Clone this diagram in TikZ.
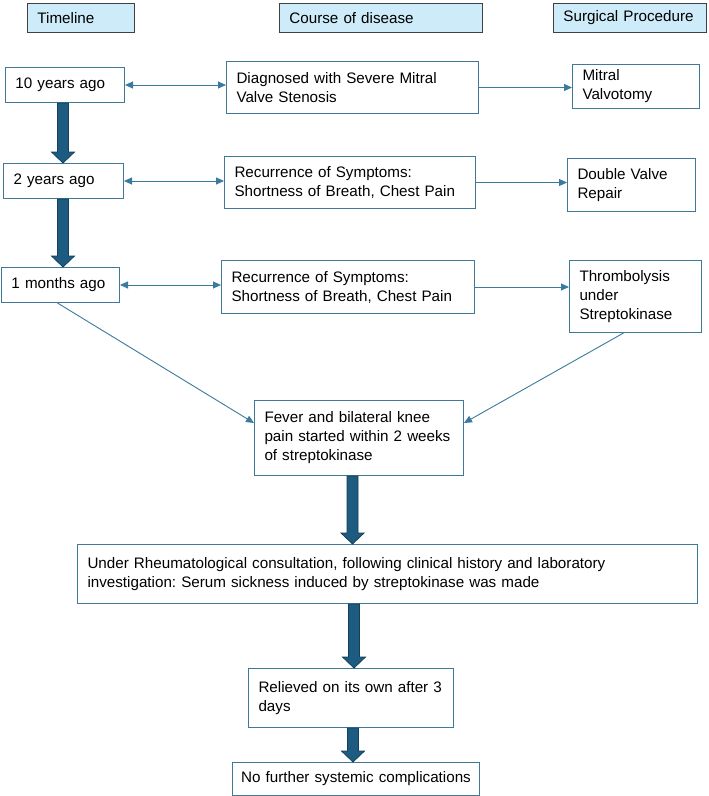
\documentclass[tikz,border=0pt]{standalone}
\usepackage{fontspec}
\setmainfont{Liberation Sans}
\usetikzlibrary{arrows.meta,calc}
\definecolor{boxblue}{HTML}{3F7898}
\definecolor{linkblue}{HTML}{3A7A9C}
\definecolor{fatblue}{HTML}{1D5C80}
\definecolor{fatedge}{HTML}{143F58}
\definecolor{hdrfill}{HTML}{CDEBF8}
\definecolor{hdredge}{HTML}{404040}
\frenchspacing
\newcommand{\fatarrow}[3]{%
  \draw[fatarr] let \p1=(#1.south), \p2=(#2.north) in
    (#3-5.5pt,\y1) -- (#3+5.5pt,\y1) -- (#3+5.5pt,\y2+11pt) -- (#3+11.5pt,\y2+11pt)
    -- (#3,\y2) -- (#3-11.5pt,\y2+11pt) -- (#3-5.5pt,\y2+11pt) -- cycle;}
\begin{document}
\begin{tikzpicture}[x=1pt, y=-1pt,
    >={Triangle[length=8pt,width=7pt]},
    txt/.style={font=\fontsize{15.2}{19}\selectfont},
    hdr/.style={txt, draw=hdredge, fill=hdrfill, line width=0.9pt, anchor=north west,
      inner xsep=10pt, inner ysep=0pt, minimum height=29pt, align=left},
    box/.style={txt, draw=boxblue, fill=white, line width=1pt, anchor=north west,
      inner xsep=10pt, inner ysep=0pt, align=left},
    link/.style={draw=linkblue, line width=0.9pt},
    fatarr/.style={fill=fatblue, draw=fatedge, line width=0.8pt}]
  \useasboundingbox (0,0) rectangle (709,796);
  \node[hdr, text width=87pt] (hTime) at (27,3) {Timeline};
  \node[hdr, text width=183pt] (hCourse) at (279,3) {Course of disease};
  \node[hdr, text width=133pt] (hSurg) at (553,3) {Surgical Procedure};
  \node[box, text width=99pt, minimum height=35pt] (t10) at (5,67) {10 years ago};
  \node[box, text width=232pt, minimum height=52pt] (diag) at (226,61)
    {Diagnosed with Severe Mitral\\Valve Stenosis};
  \node[box, text width=107pt, minimum height=44pt] (mitral) at (572,64) {Mitral\\Valvotomy};
  \node[box, text width=100pt, minimum height=35pt] (t2) at (3,163) {2 years ago};
  \node[box, text width=231pt, minimum height=52pt] (rec1) at (224,156)
    {Recurrence of Symptoms:\\Shortness of Breath, Chest Pain};
  \node[box, text width=108pt, minimum height=53pt] (dvr) at (567,158) {Double Valve\\Repair};
  \node[box, text width=98pt, minimum height=35pt] (t1) at (1,267) {1 months ago};
  \node[box, text width=233pt, minimum height=53pt] (rec2) at (221,260)
    {Recurrence of Symptoms:\\Shortness of Breath, Chest Pain};
  \node[box, text width=112pt, minimum height=72pt] (thromb) at (569,260)
    {Thrombolysis\\under\\Streptokinase};
  \node[box, text width=189pt, minimum height=75pt] (fever) at (254,400)
    {Fever and bilateral knee\\pain started within 2 weeks\\of streptokinase};
  \node[box, text width=600pt, minimum height=59pt] (under) at (77,544)
    {Under Rheumatological consultation, following clinical history and laboratory\\investigation: Serum sickness induced by streptokinase was made};
  \node[box, text width=185pt, minimum height=59pt] (relieved) at (248,668)
    {Relieved on its own after 3\\days};
  \node[box, align=center, inner xsep=7pt, text width=233pt, minimum height=33pt] (nofurther) at (232,762)
    {No further systemic complications};
  \draw[link, <->] (t10.east) -- (t10.east -| diag.west);
  \draw[link, ->] (diag.east) -- (diag.east -| mitral.west);
  \draw[link, <->] (t2.east) -- (t2.east -| rec1.west);
  \draw[link, ->] (rec1.east) -- (rec1.east -| dvr.west);
  \draw[link, <->] (t1.east) -- (t1.east -| rec2.west);
  \draw[link, ->] (rec2.east) -- (rec2.east -| thromb.west);
  \draw[link, ->] ([xshift=-3pt]t1.south) -- ([yshift=-23pt]fever.north west);
  \draw[link, ->] ([xshift=-12pt]thromb.south) -- ([yshift=-23pt]fever.north east);
  \fatarrow{t10}{t2}{63pt}
  \fatarrow{t2}{t1}{63pt}
  \fatarrow{fever}{under}{352.5pt}
  \fatarrow{under}{relieved}{354pt}
  \fatarrow{relieved}{nofurther}{353pt}
\end{tikzpicture}
\end{document}
